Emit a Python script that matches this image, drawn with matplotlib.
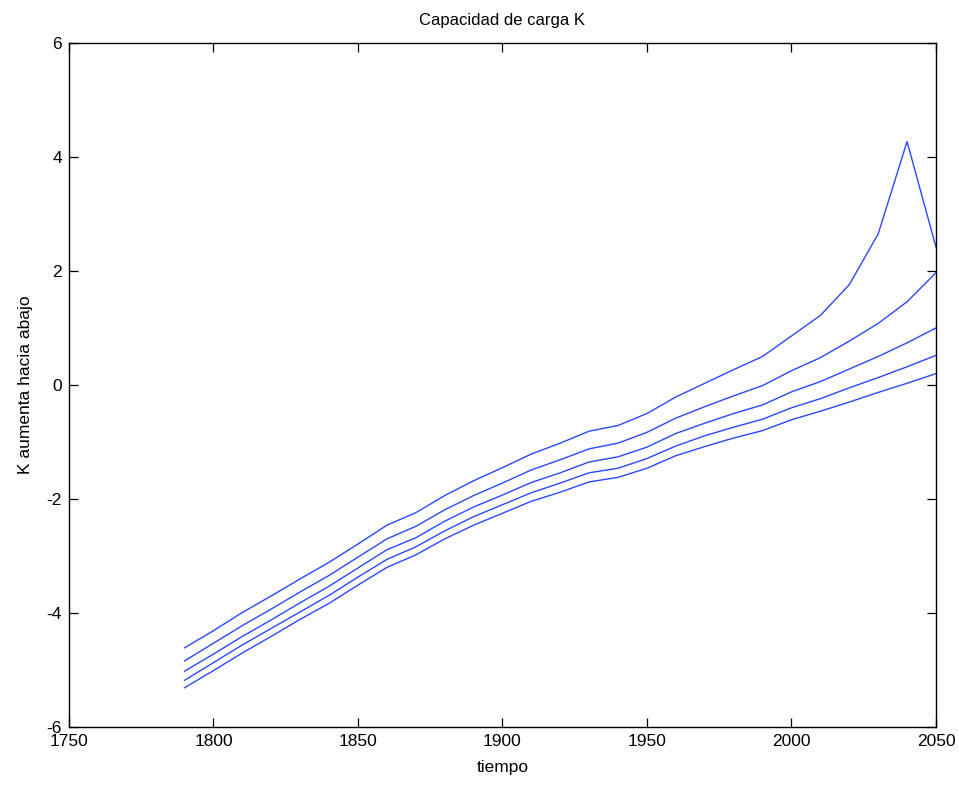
import matplotlib
matplotlib.use('Agg')
import matplotlib.pyplot as plt
from matplotlib import font_manager

# años (censo EE.UU. + proyecciones)
anios = [1790, 1800, 1810, 1820, 1830, 1840, 1850, 1860, 1870, 1880, 1890,
         1900, 1910, 1920, 1930, 1940, 1950, 1960, 1970, 1980, 1990, 2000,
         2010, 2020, 2030, 2040, 2050]

# una curva por cada capacidad de carga K
curva_k400 = [-4.61, -4.31, -3.99, -3.70, -3.40, -3.11, -2.79, -2.46, -2.24,
              -1.94, -1.68, -1.45, -1.21, -1.02, -0.81, -0.71, -0.50, -0.21,
              0.03, 0.27, 0.50, 0.86, 1.22, 1.76, 2.65, 4.27, 2.42]
curva_k500 = [-4.84, -4.53, -4.22, -3.93, -3.63, -3.34, -3.02, -2.70, -2.48,
              -2.19, -1.94, -1.72, -1.49, -1.31, -1.12, -1.02, -0.83, -0.58,
              -0.38, -0.19, -0.01, 0.25, 0.48, 0.77, 1.08, 1.46, 1.97]
curva_k600 = [-5.02, -4.72, -4.41, -4.12, -3.82, -3.53, -3.21, -2.89, -2.68,
              -2.39, -2.14, -1.93, -1.71, -1.54, -1.35, -1.26, -1.09, -0.85,
              -0.67, -0.50, -0.35, -0.12, 0.06, 0.28, 0.50, 0.74, 1.00]
curva_k700 = [-5.18, -4.87, -4.56, -4.27, -3.98, -3.69, -3.37, -3.06, -2.84,
              -2.56, -2.31, -2.10, -1.89, -1.72, -1.54, -1.46, -1.29, -1.07,
              -0.89, -0.74, -0.60, -0.40, -0.24, -0.05, 0.13, 0.32, 0.52]
curva_k800 = [-5.31, -5.01, -4.70, -4.41, -4.11, -3.83, -3.51, -3.20, -2.98,
              -2.70, -2.46, -2.25, -2.04, -1.88, -1.70, -1.62, -1.46, -1.24,
              -1.08, -0.93, -0.80, -0.61, -0.46, -0.30, -0.13, 0.03, 0.20]

curvas = [curva_k400, curva_k500, curva_k600, curva_k700, curva_k800]

# fuente estrecha tipo MATLAB si existe
disponibles = {f.name for f in font_manager.fontManager.ttflist}
familia = [f for f in ['Liberation Sans Narrow', 'Liberation Sans', 'DejaVu Sans']
           if f in disponibles]
plt.rcParams['font.family'] = familia
plt.rcParams['axes.unicode_minus'] = False

fig = plt.figure(figsize=(9.58, 7.87), dpi=100)
ax = fig.add_axes([0.072, 0.0762, 0.905, 0.8692])

for c in curvas:
    ax.plot(anios, c, color='#2a48ff', lw=1.0)

ax.set_xlim(1750, 2050)
ax.set_ylim(-6, 6)
ax.set_xticks(range(1750, 2051, 50))
ax.set_yticks(range(-6, 7, 2))
ax.tick_params(direction='in', length=6.5, width=0.9, top=True, right=True,
               labelsize=12.5, pad=5, colors='black')
for s in ax.spines.values():
    s.set_linewidth(1.0)

ax.set_title('Capacidad de carga K', fontsize=12, pad=13)
ax.set_xlabel('tiempo', fontsize=12.5, labelpad=8)
ax.set_ylabel('K aumenta hacia abajo', fontsize=12.5, labelpad=10)

fig.savefig('out.png', dpi=100)
plt.close(fig)
